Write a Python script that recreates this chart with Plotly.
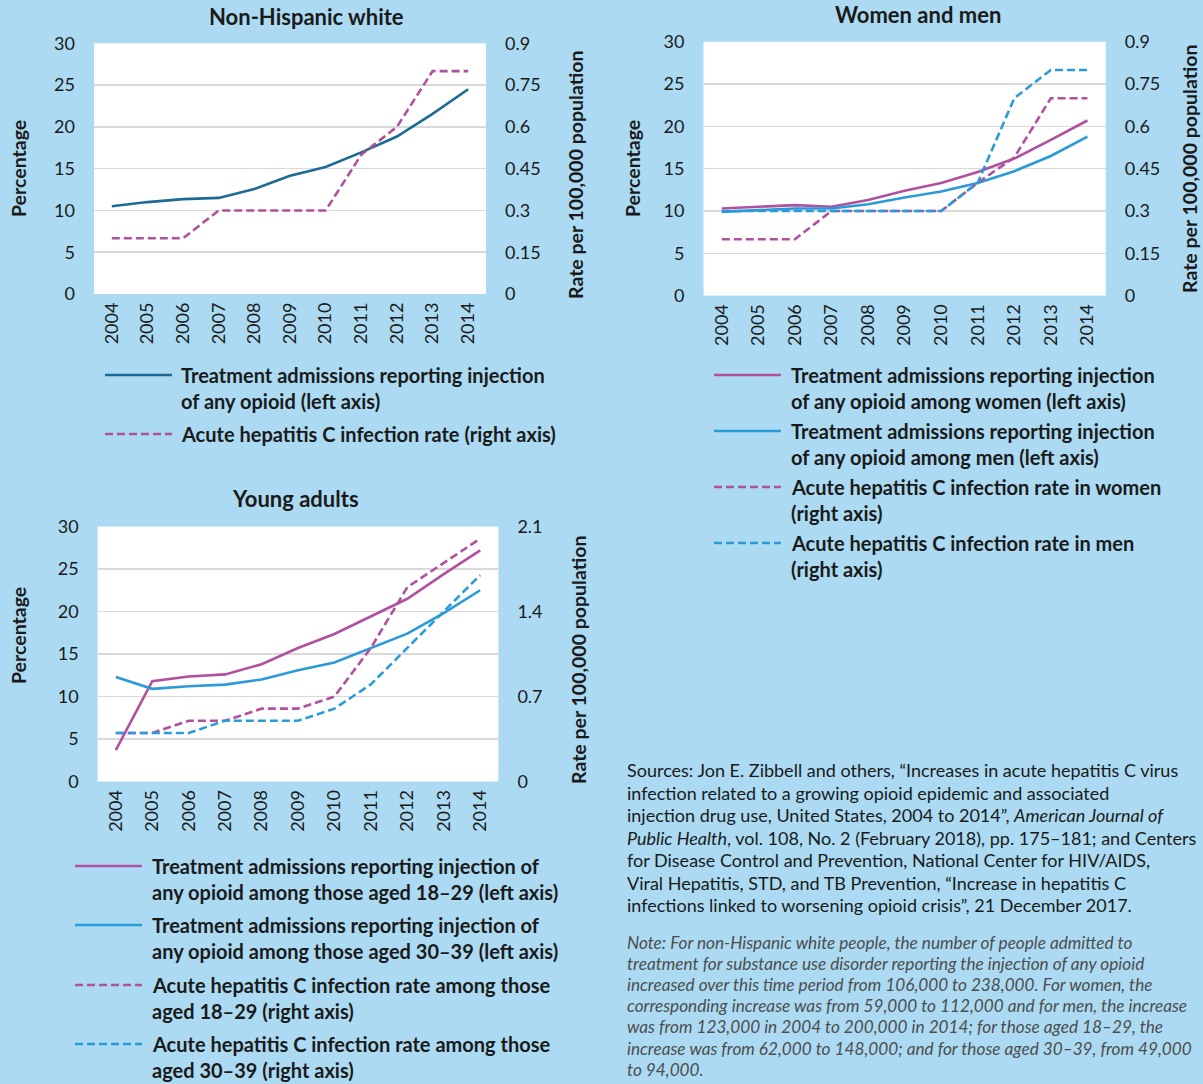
import plotly.graph_objects as go

# ---------------- data ----------------
years = ["2004", "2005", "2006", "2007", "2008", "2009", "2010", "2011", "2012", "2013", "2014"]

nhw_opioid = [10.5, 11.0, 11.35, 11.5, 12.55, 14.15, 15.2, 16.95, 18.85, 21.55, 24.5]
nhw_hcv = [0.2, 0.2, 0.2, 0.3, 0.3, 0.3, 0.3, 0.5, 0.6, 0.8, 0.8]

wm_women_opioid = [10.3, 10.5, 10.7, 10.5, 11.3, 12.4, 13.3, 14.6, 16.2, 18.4, 20.7]
wm_men_opioid = [9.9, 10.1, 10.3, 10.3, 10.8, 11.6, 12.3, 13.3, 14.7, 16.5, 18.8]
wm_women_hcv = [0.2, 0.2, 0.2, 0.3, 0.3, 0.3, 0.3, 0.4, 0.49, 0.7, 0.7]
wm_men_hcv = [0.3, 0.3, 0.3, 0.3, 0.3, 0.3, 0.3, 0.4, 0.7, 0.8, 0.8]

ya_1829_opioid = [3.7, 11.8, 12.35, 12.6, 13.8, 15.7, 17.35, 19.4, 21.5, 24.4, 27.2]
ya_3039_opioid = [12.3, 10.9, 11.2, 11.4, 12.0, 13.1, 14.0, 15.7, 17.4, 19.8, 22.5]
ya_1829_hcv = [0.4, 0.4, 0.5, 0.5, 0.6, 0.6, 0.7, 1.1, 1.6, 1.8, 2.0]
ya_3039_hcv = [0.4, 0.4, 0.4, 0.5, 0.5, 0.5, 0.6, 0.8, 1.1, 1.4, 1.7]

left_ticks = [0, 5, 10, 15, 20, 25, 30]
left_ticktext = ["0", "5", "10", "15", "20", "25", "30"]
right_ticks_a = [0, 0.15, 0.3, 0.45, 0.6, 0.75, 0.9]
right_ticktext_a = ["0", "0.15", "0.3", "0.45", "0.6", "0.75", "0.9"]
right_ticks_b = [0, 0.7, 1.4, 2.1]
right_ticktext_b = ["0", "0.7", "1.4", "2.1"]

titles = ["Non-Hispanic white", "Women and men", "Young adults"]
y_left_title = "Percentage"
y_right_title = "Rate per 100,000 population"

legend1 = [
    ["Treatment admissions reporting injection", "of any opioid (left axis)"],
    ["Acute hepatitis C infection rate (right axis)"],
]
legend2 = [
    ["Treatment admissions reporting injection", "of any opioid among women (left axis)"],
    ["Treatment admissions reporting injection", "of any opioid among men (left axis)"],
    ["Acute hepatitis C infection rate in women", "(right axis)"],
    ["Acute hepatitis C infection rate in men", "(right axis)"],
]
legend3 = [
    ["Treatment admissions reporting injection of", "any opioid among those aged 18\u201329 (left axis)"],
    ["Treatment admissions reporting injection of", "any opioid among those aged 30\u201339 (left axis)"],
    ["Acute hepatitis C infection rate among those", "aged 18\u201329 (right axis)"],
    ["Acute hepatitis C infection rate among those", "aged 30\u201339 (right axis)"],
]

source_lines = [
    "Sources: Jon E. Zibbell and others, \u201cIncreases in acute hepatitis C virus",
    "infection related to a growing opioid epidemic and associated",
    "injection drug use, United States, 2004 to 2014\u201d, <i>American Journal of</i>",
    "<i>Public Health</i>, vol. 108, No. 2 (February 2018), pp. 175\u2013181; and Centers",
    "for Disease Control and Prevention, National Center for HIV/AIDS,",
    "Viral Hepatitis, STD, and TB Prevention, \u201cIncrease in hepatitis C",
    "infections linked to worsening opioid crisis\u201d, 21 December 2017.",
]
note_lines = [
    "Note: For non-Hispanic white people, the number of people admitted to",
    "treatment for substance use disorder reporting the injection of any opioid",
    "increased over this time period from 106,000 to 238,000. For women, the",
    "corresponding increase was from 59,000 to 112,000 and for men, the increase",
    "was from 123,000 in 2004 to 200,000 in 2014; for those aged 18\u201329, the",
    "increase was from 62,000 to 148,000; and for those aged 30\u201339, from 49,000",
    "to 94,000.",
]

# ---------------- style ----------------
W, H = 1203, 1084
BG = "#ABDAF2"
DARK = "#1D6A95"
PURPLE = "#B0509E"
BLUE = "#2A9BD8"
TXT = "#1A1A1A"
GRID = "#D9D9D9"
FONT = "Lato"
LW = 2.6
DASH = "8px,4px"


def fx(px):
    return px / W


def fy(py):
    return 1 - py / H


fig = go.Figure()

# chart 1
fig.add_trace(go.Scatter(x=years, y=nhw_opioid, xaxis="x", yaxis="y", mode="lines",
                         line=dict(color=DARK, width=LW), showlegend=False))
fig.add_trace(go.Scatter(x=years, y=nhw_hcv, xaxis="x", yaxis="y2", mode="lines",
                         line=dict(color=PURPLE, width=LW, dash=DASH), showlegend=False))
# chart 2
fig.add_trace(go.Scatter(x=years, y=wm_women_opioid, xaxis="x2", yaxis="y3", mode="lines",
                         line=dict(color=PURPLE, width=LW), showlegend=False))
fig.add_trace(go.Scatter(x=years, y=wm_men_opioid, xaxis="x2", yaxis="y3", mode="lines",
                         line=dict(color=BLUE, width=LW), showlegend=False))
fig.add_trace(go.Scatter(x=years, y=wm_women_hcv, xaxis="x2", yaxis="y4", mode="lines",
                         line=dict(color=PURPLE, width=LW, dash=DASH), showlegend=False))
fig.add_trace(go.Scatter(x=years, y=wm_men_hcv, xaxis="x2", yaxis="y4", mode="lines",
                         line=dict(color=BLUE, width=LW, dash=DASH), showlegend=False))
# chart 3
fig.add_trace(go.Scatter(x=years, y=ya_1829_opioid, xaxis="x3", yaxis="y5", mode="lines",
                         line=dict(color=PURPLE, width=LW), showlegend=False))
fig.add_trace(go.Scatter(x=years, y=ya_3039_opioid, xaxis="x3", yaxis="y5", mode="lines",
                         line=dict(color=BLUE, width=LW), showlegend=False))
fig.add_trace(go.Scatter(x=years, y=ya_1829_hcv, xaxis="x3", yaxis="y6", mode="lines",
                         line=dict(color=PURPLE, width=LW, dash=DASH), showlegend=False))
fig.add_trace(go.Scatter(x=years, y=ya_3039_hcv, xaxis="x3", yaxis="y6", mode="lines",
                         line=dict(color=BLUE, width=LW, dash=DASH), showlegend=False))

tickfont = dict(family=FONT, size=18, color=TXT)


def xax(dom, anchor):
    return dict(domain=dom, anchor=anchor, type="category", range=[-0.5, 10.5],
                tickangle=-90, tickfont=tickfont, showgrid=False, zeroline=False,
                showline=False, ticks="", ticklabelstandoff=4, fixedrange=True,
                automargin=False)


def yleft(dom, anchor):
    return dict(domain=dom, anchor=anchor, range=[0, 30], tickvals=left_ticks,
                ticktext=left_ticktext, tickfont=tickfont, showgrid=True, gridcolor=GRID,
                gridwidth=1.5, zeroline=False, showline=False, ticks="",
                ticklabelstandoff=18, automargin=False, fixedrange=True)


def yright(dom, anchor, overl, rng, tv, tt):
    return dict(domain=dom, anchor=anchor, overlaying=overl, side="right", range=rng,
                tickvals=tv, ticktext=tt, tickfont=tickfont, showgrid=False,
                zeroline=False, showline=False, ticks="", ticklabelstandoff=18,
                automargin=False, fixedrange=True)


d1x = [fx(94), fx(486)]
d1y = [fy(294), fy(43.3)]
d2x = [fx(703.5), fx(1105.7)]
d2y = [fy(295.6), fy(41.8)]
d3x = [fx(97.6), fx(498.4)]
d3y = [fy(781.5), fy(526.5)]

fig.update_layout(
    width=W, height=H, autosize=False,
    margin=dict(l=0, r=0, t=0, b=0, pad=0, autoexpand=False),
    paper_bgcolor=BG, plot_bgcolor="white",
    showlegend=False, hovermode=False,
    font=dict(family=FONT, color=TXT),
    xaxis=xax(d1x, "y"),
    yaxis=yleft(d1y, "x"),
    yaxis2=yright(d1y, "x", "y", [0, 0.9], right_ticks_a, right_ticktext_a),
    xaxis2=xax(d2x, "y3"),
    yaxis3=yleft(d2y, "x2"),
    yaxis4=yright(d2y, "x2", "y3", [0, 0.9], right_ticks_a, right_ticktext_a),
    xaxis3=xax(d3x, "y5"),
    yaxis5=yleft(d3y, "x3"),
    yaxis6=yright(d3y, "x3", "y5", [0, 2.1], right_ticks_b, right_ticktext_b),
)

ann = []
shapes = []

# titles
for t, (x, y) in zip(titles, [(306, 17), (918, 14), (295, 498)]):
    ann.append(dict(text="<b>%s</b>" % t, x=fx(x), y=fy(y), xref="paper", yref="paper",
                    xanchor="center", yanchor="middle", showarrow=False,
                    font=dict(family=FONT, size=22, color=TXT)))

# axis titles
for (x, y) in [(18, 169), (632, 169), (18, 636)]:
    ann.append(dict(text="<b>%s</b>" % y_left_title, x=fx(x), y=fy(y), xref="paper",
                    yref="paper", xanchor="center", yanchor="middle", textangle=-90,
                    showarrow=False, font=dict(family=FONT, size=19.5, color=TXT)))
for (x, y) in [(576, 175), (1189, 169), (578, 660)]:
    ann.append(dict(text="<b>%s</b>" % y_right_title, x=fx(x), y=fy(y), xref="paper",
                    yref="paper", xanchor="center", yanchor="middle", textangle=-90,
                    showarrow=False, font=dict(family=FONT, size=19.5, color=TXT)))


def legend_block(items, styles, sx0, sx1, tx, ys):
    k = 0
    for lines, (col, dash) in zip(items, styles):
        for j, ln in enumerate(lines):
            y = ys[k]
            if j == 0:
                shapes.append(dict(type="line", xref="paper", yref="paper",
                                   x0=fx(sx0), x1=fx(sx1), y0=fy(y), y1=fy(y),
                                   line=dict(color=col, width=LW, dash=dash)))
            ann.append(dict(text="<b>%s</b>" % ln, x=fx(tx), y=fy(y), xref="paper",
                            yref="paper", xanchor="left", yanchor="middle",
                            showarrow=False, font=dict(family=FONT, size=20, color=TXT)))
            k += 1


legend_block(legend1, [(DARK, "solid"), (PURPLE, DASH)], 105, 172, 179,
             [375, 401, 434])
legend_block(legend2, [(PURPLE, "solid"), (BLUE, "solid"), (PURPLE, DASH), (BLUE, DASH)],
             714, 781, 789, [375, 401, 431, 457, 487, 513, 543, 569])
legend_block(legend3, [(PURPLE, "solid"), (BLUE, "solid"), (PURPLE, DASH), (BLUE, DASH)],
             75, 142, 150, [866, 892, 925, 951, 985, 1011, 1044, 1070])

# sources
for i, ln in enumerate(source_lines):
    ann.append(dict(text=ln, x=fx(625), y=fy(770 + i * 22.5), xref="paper", yref="paper",
                    xanchor="left", yanchor="middle", showarrow=False,
                    font=dict(family=FONT, size=18.0, color=TXT)))
for i, ln in enumerate(note_lines):
    ann.append(dict(text="<i>%s</i>" % ln, x=fx(625), y=fy(942 + i * 21.2), xref="paper",
                    yref="paper", xanchor="left", yanchor="middle", showarrow=False,
                    font=dict(family=FONT, size=17.2, color="#4D4D4D")))

fig.update_layout(annotations=ann, shapes=shapes)

fig.write_html("out.html", config={"displayModeBar": False, "staticPlot": True},
               post_script="document.body.style.margin='0';document.body.style.overflow='hidden';")
